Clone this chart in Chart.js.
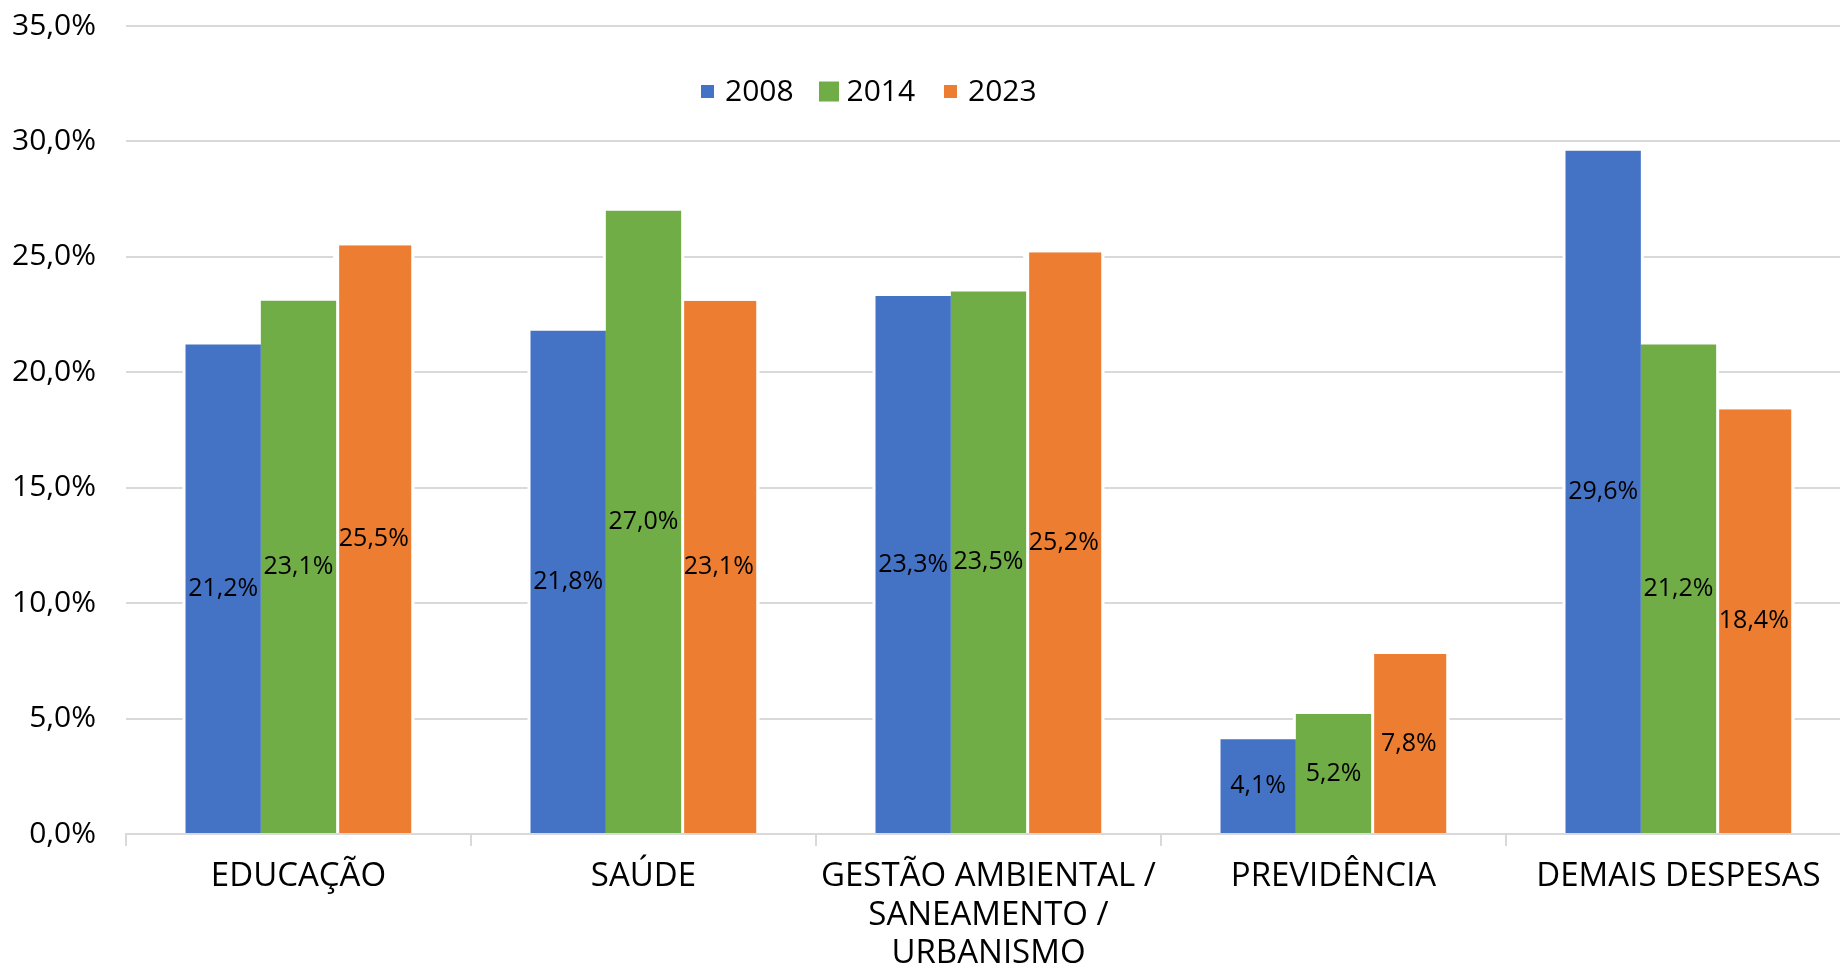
<!DOCTYPE html>
<html>
<head>
<meta charset="utf-8">
<script src="https://cdn.jsdelivr.net/npm/chart.js@4.4.1/dist/chart.umd.min.js"></script>
<style>
  html, body { margin: 0; padding: 0; background: #fff; overflow: hidden; width: 1840px; height: 966px; }
  #wrap { position: absolute; left: 0; top: 0; width: 1860px; height: 966px; }
</style>
</head>
<body>
<div id="wrap"><canvas id="c" width="1860" height="966"></canvas></div>
<script>
const categories = ['EDUCAÇÃO', 'SAÚDE', ['GESTÃO AMBIENTAL /', 'SANEAMENTO /', 'URBANISMO'], 'PREVIDÊNCIA', 'DEMAIS DESPESAS'];
const seriesLabels = ['2008', '2014', '2023'];
const values2008 = [21.2, 21.8, 23.3, 4.1, 29.6];
const values2014 = [23.1, 27.0, 23.5, 5.2, 21.2];
const values2023 = [25.5, 23.1, 25.2, 7.8, 18.4];
const yTicks = [0, 5, 10, 15, 20, 25, 30, 35];

const FONT = "'Open Sans', 'DejaVu Sans', sans-serif";
const colors = ['#4472C4', '#70AD47', '#ED7D31'];
const fmt = v => v.toFixed(1).replace('.', ',') + '%';

// white halo around bars (gridlines stop short of bars)
const haloPlugin = {
  id: 'halo',
  beforeDatasetsDraw(chart) {
    const ctx = chart.ctx;
    ctx.save();
    ctx.fillStyle = '#ffffff';
    chart.data.datasets.forEach((ds, i) => {
      chart.getDatasetMeta(i).data.forEach(el => {
        const w = el.width;
        ctx.fillRect(el.x - w / 2 - 3, el.y - 3, w + 6, el.base - el.y + 2);
      });
    });
    ctx.restore();
  }
};

// value labels centred in bars
const valueLabelPlugin = {
  id: 'valueLabels',
  afterDatasetsDraw(chart) {
    const ctx = chart.ctx;
    ctx.save();
    ctx.font = "25px " + FONT;
    ctx.fillStyle = '#000000';
    ctx.textAlign = 'center';
    ctx.textBaseline = 'middle';
    chart.data.datasets.forEach((ds, i) => {
      chart.getDatasetMeta(i).data.forEach((el, j) => {
        ctx.fillText(fmt(ds.data[j]), el.x, (el.y + el.base) / 2);
      });
    });
    ctx.restore();
  }
};

// legend inside plot area
const legendPlugin = {
  id: 'innerLegend',
  afterDraw(chart) {
    const ctx = chart.ctx;
    ctx.save();
    ctx.font = "30px " + FONT;
    ctx.textBaseline = 'middle';
    ctx.textAlign = 'left';
    const boxSizes = [13, 20, 13];
    const cy = 91.5;
    chart.data.datasets.forEach((ds, i) => {
      const cx = 707.5 + i * 121.5;
      const s = boxSizes[i];
      ctx.fillStyle = ds.backgroundColor;
      ctx.fillRect(cx - s / 2, cy - s / 2, s, s);
      ctx.fillStyle = '#000000';
      ctx.fillText(ds.label, cx + 17.5, cy + 1);
    });
    ctx.restore();
  }
};

new Chart(document.getElementById('c'), {
  type: 'bar',
  data: {
    labels: categories,
    datasets: [
      { label: seriesLabels[0], data: values2008, backgroundColor: colors[0], borderWidth: 0 },
      { label: seriesLabels[1], data: values2014, backgroundColor: colors[1], borderWidth: 0 },
      { label: seriesLabels[2], data: values2023, backgroundColor: colors[2], borderColor: '#ffffff',
        borderWidth: { left: 3, top: 0, right: 0, bottom: 0 }, borderSkipped: false }
    ]
  },
  options: {
    responsive: false,
    animation: false,
    devicePixelRatio: 1,
    layout: { padding: { left: 0, right: 9, top: 0, bottom: 0 } },
    datasets: { bar: { categoryPercentage: 0.655, barPercentage: 1 } },
    plugins: { legend: { display: false }, tooltip: { enabled: false } },
    scales: {
      x: {
        grid: { drawOnChartArea: false, drawTicks: true, tickLength: 12, color: '#d9d9d9', lineWidth: 2 },
        border: { display: true, color: '#d9d9d9', width: 2 },
        ticks: {
          color: '#000000', autoSkip: false, maxRotation: 0, minRotation: 0, padding: 11.5,
          font: { family: FONT, size: 33, lineHeight: 1.167 }
        },
        afterFit(s) { s.height = 132; }
      },
      y: {
        min: 0, max: 35,
        afterBuildTicks(s) { s.ticks = yTicks.map(v => ({ value: v })); },
        grid: { drawTicks: false, color: '#d9d9d9', lineWidth: 2 },
        border: { display: false },
        ticks: {
          color: '#000000', padding: 30,
          font: { family: FONT, size: 30 },
          callback: v => fmt(v)
        },
        afterFit(s) { s.width = 126; s.paddingTop = 26; s.paddingBottom = 20; }
      }
    }
  },
  plugins: [haloPlugin, valueLabelPlugin, legendPlugin]
});
</script>
</body>
</html>
